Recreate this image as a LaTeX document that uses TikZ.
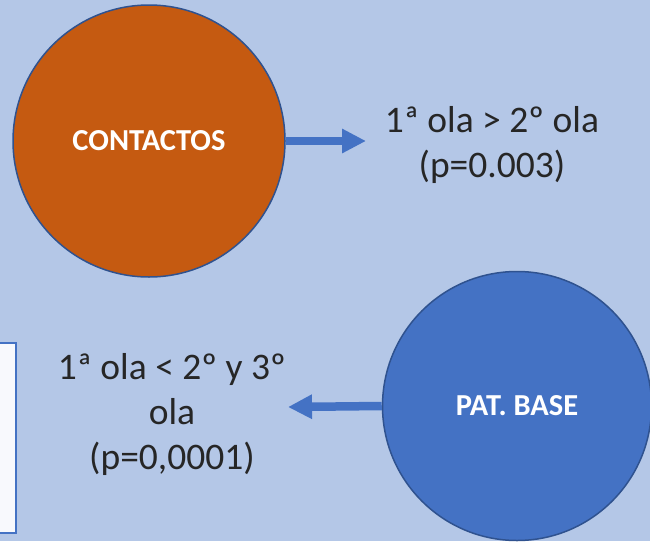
\documentclass[tikz,border=0pt]{standalone}
\usepackage{fontspec}
\setmainfont{Carlito}
\usetikzlibrary{arrows.meta,positioning,shapes}
\definecolor{bgblue}{HTML}{B4C7E7}
\definecolor{edgeblue}{HTML}{2F528F}
\definecolor{fillblue}{HTML}{4472C4}
\definecolor{fillorange}{HTML}{C55A11}
\definecolor{panelwhite}{HTML}{F8F9FD}
\definecolor{textgrey}{HTML}{262626}
\tikzset{%
	bubble/.style   = {draw=edgeblue, circle, line width=1.5pt, minimum size=272pt, text=white, font=\fontsize{30.5}{34}\selectfont\bfseries},
	result/.style   = {align=center, text=textgrey, font=\fontsize{37.5}{45}\selectfont},
	fatarrow/.style = {draw=fillblue, line width=8.5pt, -{Triangle[length=24pt,width=23pt]}},
	panel/.style    = {draw=fillblue, fill=panelwhite, rectangle, line width=2pt},
}
\begin{document}
\begin{tikzpicture}[x=1pt,y=-1pt]
	\clip (0,0) rectangle (650,541);
	\fill [bgblue] (0,0) rectangle (650,541);
	% box cut by the left edge
	\node [panel, minimum width=40pt, minimum height=190pt] (panel) at (-4,438) {};
	
	\node [bubble, fill=fillorange] (contactos) at (149,141) {CONTACTOS};
	\node [result] (ola1) at (492,145) {1ª ola > 2º ola\\(p=0.003)};
	\node [bubble, fill=fillblue, minimum size=269pt] (patbase) at (517,406) {PAT. BASE};
	\node [result] (ola2) at (172,414) {1ª ola < 2º y 3º\\ola\\(p=0,0001)};
	\coordinate (tip1) at (366,141);
	\coordinate (tip2) at (288,407);
	
	\draw [fatarrow] (contactos.east) -- (tip1);
	\draw [fatarrow] (patbase.west) -- (tip2);
\end{tikzpicture}
\end{document}
